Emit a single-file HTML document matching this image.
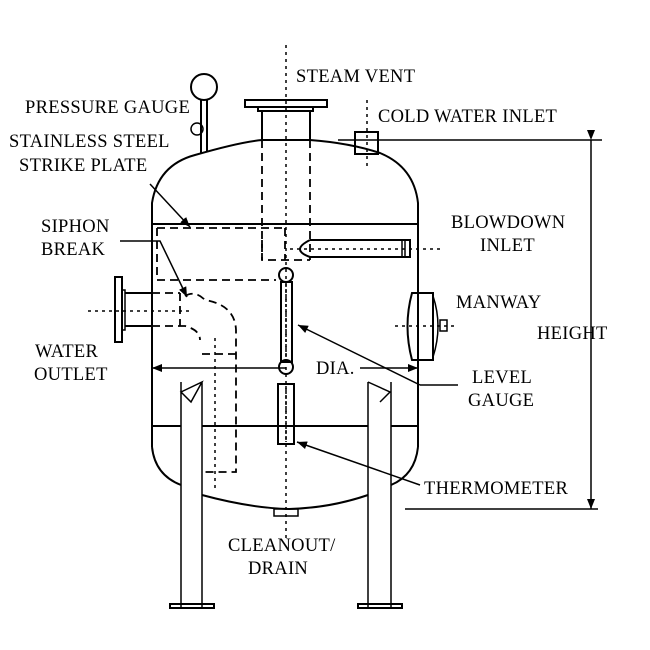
<!DOCTYPE html>
<html><head><style>
html,body{margin:0;padding:0;background:#fff;}
svg{display:block;}
text{font-family:"Liberation Serif",serif;font-size:18.5px;letter-spacing:0.3px;fill:#000;}
</style></head><body>
<svg width="650" height="650" viewBox="0 0 650 650" xmlns="http://www.w3.org/2000/svg">
<defs>
<marker id="ar" markerWidth="10" markerHeight="8" refX="10" refY="4" orient="auto" markerUnits="userSpaceOnUse">
<path d="M0,0 L10,4 L0,8 z" fill="#000"/></marker>
</defs>
<g fill="none" stroke="#000" stroke-width="2">
<path d="M152,447 L152,203 Q158,165 195,155 Q240,142 262,140 L310,140 Q350,143 380,153 Q414,167 418,203 L418,447"/>
<line x1="152" y1="224" x2="418" y2="224"/>
<line x1="152" y1="426" x2="181" y2="426"/><line x1="202" y1="426" x2="368" y2="426"/><line x1="391" y1="426" x2="418" y2="426"/>
<path d="M152,447 Q155,475 181,485"/>
<path d="M418,447 Q415,475 391,485"/>
<path d="M202,495 Q250,508 289,509 Q330,508 368,495"/>
<rect x="274" y="509" width="24" height="7" stroke-width="1.5"/>
<path d="M181,607 L181,382 M202,607 L202,382 M181,392 L202,382 L191,402 Z" stroke-width="1.5"/>
<rect x="170" y="604" width="44" height="4"/>
<path d="M368,607 L368,382 M391,607 L391,382 M368,382 L390,392 L380,402" stroke-width="1.5"/>
<rect x="358" y="604" width="44" height="4"/>
<rect x="245" y="100" width="82" height="7"/>
<rect x="258" y="107" width="55" height="4"/>
<line x1="262" y1="111" x2="262" y2="140"/><line x1="310" y1="111" x2="310" y2="140"/>
<circle cx="204" cy="87" r="13"/>
<line x1="201" y1="100" x2="201" y2="154"/><line x1="207" y1="100" x2="207" y2="152"/>
<circle cx="197" cy="129" r="6" stroke-width="1.5"/>
<rect x="355" y="132" width="23" height="22"/>
<line x1="338" y1="140" x2="602" y2="140" stroke-width="1.5"/>
<line x1="591" y1="140" x2="591" y2="509" stroke-width="1.5" marker-start="url(#ar)" marker-end="url(#ar)"/>
<line x1="405" y1="509" x2="598" y2="509" stroke-width="1.5"/>
<path d="M310,240 L410,240 L410,257 L310,257 Q290,250 310,240" />
<path d="M402,240 V257 M405,240 V257" stroke-width="1.5"/>
<rect x="115" y="277" width="7" height="65"/>
<rect x="122" y="290" width="3" height="40" stroke-width="1.5"/>
<line x1="125" y1="293" x2="152" y2="293"/><line x1="125" y1="326" x2="152" y2="326"/>
<path d="M433,293 L412,293 Q403,326 412,360 L433,360 Z"/>
<path d="M433,296 Q443,326 433,357" stroke-width="1.5"/>
<rect x="440" y="320" width="7" height="11" stroke-width="1.5"/>
<rect x="281" y="282" width="11" height="80"/>
<circle cx="286" cy="275" r="7"/><circle cx="286" cy="367" r="7"/>
<line x1="286" y1="284" x2="286" y2="360" stroke-dasharray="3,2" stroke-width="1.5"/>
<rect x="278" y="384" width="16" height="60"/>
<line x1="286" y1="386" x2="286" y2="442" stroke-dasharray="3,2" stroke-width="1.5"/>
</g>
<g fill="none" stroke="#000" stroke-width="1.8" stroke-dasharray="8,5">
<line x1="262" y1="140" x2="262" y2="260"/><line x1="310" y1="140" x2="310" y2="260"/>
<path d="M262,240 L262,260 L310,260 M285,228 L285,260"/>
<path d="M157,228 L285,228 M157,228 L157,280 L276,280"/>
<path d="M152,293 L180,293 M180,293 L180,326 M152,326 L185,326 Q200,330 200,340"/>
<path d="M185,296 Q195,290 205,300 Q235,305 236,330 L236,472 L202,472"/>
<path d="M202,354 L236,354"/>
</g>
<g fill="none" stroke="#000" stroke-width="1.5" stroke-dasharray="3,4">
<line x1="286" y1="45" x2="286" y2="540"/>
<line x1="367" y1="100" x2="367" y2="170"/>
<line x1="290" y1="249" x2="440" y2="249"/>
<line x1="88" y1="311" x2="190" y2="311"/>
<line x1="215" y1="338" x2="215" y2="490"/>
<line x1="395" y1="326" x2="455" y2="326"/>
</g>
<g fill="none" stroke="#000" stroke-width="1.5">
<line x1="150" y1="184" x2="190" y2="227" marker-end="url(#ar)"/>
<path d="M120,241 L160,241 L187,297" marker-end="url(#ar)"/>
<line x1="420" y1="385" x2="458" y2="385"/>
<line x1="420" y1="385" x2="298" y2="325" marker-end="url(#ar)"/>
<line x1="420" y1="485" x2="297" y2="442" marker-end="url(#ar)"/>
<line x1="286" y1="368" x2="152" y2="368" marker-end="url(#ar)"/>
<line x1="360" y1="368" x2="418" y2="368" marker-end="url(#ar)"/>
</g>
<g>
<text x="25" y="113">PRESSURE GAUGE</text>
<text x="9" y="147">STAINLESS STEEL</text>
<text x="19" y="171">STRIKE PLATE</text>
<text x="41" y="232">SIPHON</text>
<text x="41" y="255">BREAK</text>
<text x="35" y="357">WATER</text>
<text x="34" y="380">OUTLET</text>
<text x="296" y="82">STEAM VENT</text>
<text x="378" y="122">COLD WATER INLET</text>
<text x="451" y="228">BLOWDOWN</text>
<text x="480" y="251">INLET</text>
<text x="456" y="308">MANWAY</text>
<text x="537" y="339">HEIGHT</text>
<text x="316" y="374">DIA.</text>
<text x="472" y="383">LEVEL</text>
<text x="468" y="406">GAUGE</text>
<text x="424" y="494">THERMOMETER</text>
<text x="228" y="551">CLEANOUT/</text>
<text x="248" y="574">DRAIN</text>
</g>
</svg>
</body></html>
